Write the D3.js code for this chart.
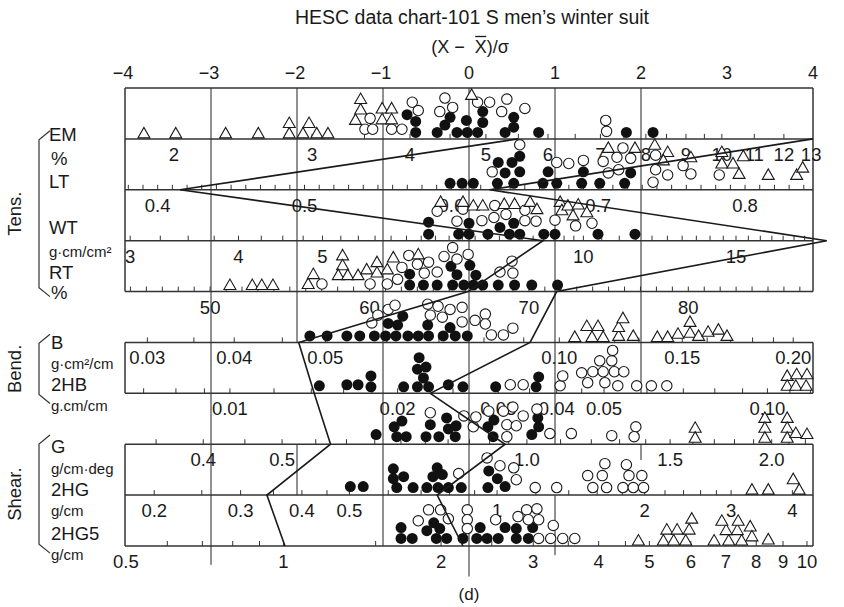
<!DOCTYPE html>
<html>
<head>
<meta charset="utf-8">
<script src="https://cdn.jsdelivr.net/npm/d3@7"></script>
<style>
    body { margin: 0; background: #fff; }
    svg text { font-family: "Liberation Sans", Arial, sans-serif; fill: #1a1a1a; }
</style>
</head>
<body>
<svg id="chart" width="844" height="607"></svg>
<script>
'use strict';

// top axis, (X - mean)/sigma
var sigmaTicks = [-4, -3, -2, -1, 0, 1, 2, 3, 4];

// property scales: tick labels and minor ticks
var emLabels = [2, 3, 4, 5, 6, 7, 8, 9, 10, 11, 12, 13];
var emTicks = [3, 3.5, 4, 4.5, 5, 5.5, 6, 6.5, 7, 7.5, 8, 8.5, 9, 9.5, 10, 11, 12, 13];
var ltLabels = ['0.4', '0.5', '0.6', '0.7', '0.8'];
var ltTicks = d3.range(38, 85).map(function (v) { return v / 100; });
var wtLabels = [3, 4, 5, 10, 15];
var wtTicks = d3.range(12, 40).map(function (v) { return v / 4; }).concat(d3.range(20, 37).map(function (v) { return v / 2; }));
var rtLabels = [50, 60, 70, 80];
var rtTicks = d3.range(45, 88);
var bLabels = ['0.03', '0.04', '0.05', '0.10', '0.15', '0.20'];
var bTicks = [0.03, 0.035, 0.04, 0.045, 0.05, 0.06, 0.07, 0.08, 0.09, 0.1, 0.11, 0.12, 0.13, 0.14, 0.15, 0.16, 0.17, 0.18, 0.19, 0.2, 0.21];
var hbLabels = ['0.01', '0.02', '0.03', '0.04', '0.05', '0.10'];
var hbTicks = [0.007, 0.008, 0.009, 0.01, 0.012, 0.014, 0.016, 0.018, 0.02, 0.025, 0.03, 0.035, 0.04, 0.045, 0.05, 0.06, 0.07, 0.08, 0.09, 0.1, 0.11, 0.12];
var gLabels = ['0.4', '0.5', '1.0', '1.5', '2.0'];
var gTicks = d3.range(7, 20).map(function (v) { return v / 20; }).concat(d3.range(10, 23).map(function (v) { return v / 10; }));
var hgLabels = ['0.2', '0.3', '0.4', '0.5', '1', '2', '3', '4'];
var hgTicks = [0.2, 0.25, 0.3, 0.35, 0.4, 0.45, 0.5, 0.6, 0.7, 0.8, 0.9, 1, 1.2, 1.4, 1.6, 1.8, 2, 2.2, 2.4, 2.6, 2.8, 3, 3.5, 4];
var hg5Labels = ['0.5', '1', '2', '3', '4', '5', '6', '7', '8', '9', '10'];
var hg5Ticks = [0.5, 0.6, 0.7, 0.8, 0.9, 1, 1.5, 2, 2.5, 3, 3.5, 4, 4.5, 5, 6, 7, 8, 9, 10];

// sample points, [sigma, stack level]
var emFilled = [[-0.72,1.7],[-0.62,1.05],[-0.62,0],[-0.37,0],[-0.28,0.7],[-0.22,1.45],[-0.14,0],[-0.03,1.15],[-0.02,0],[0.10,0],[0.16,2.0],[0.16,0.95],[0.42,0],[0.52,1.45],[0.52,0.5],[0.81,0],[1.83,0],[2.14,0]];
var emOpen = [[-1.21,0.3],[-1.12,0.3],[-0.90,0.3],[-0.78,0.3],[-1.15,1.35],[-0.66,2.9],[-0.59,2.1],[-0.28,3.3],[-0.19,2.4],[-0.34,2.0],[0.10,2.9],[0.24,2.9],[0.44,3.2],[0.38,2.0],[0.65,2.3],[1.59,1.15],[1.60,0.1]];
var emTri = [[-3.78,0],[-3.41,0],[-2.83,0],[-2.45,0],[-2.09,0],[-2.09,1],[-1.93,0],[-1.86,1],[-1.77,0],[-1.64,0],[-1.32,1.3],[-1.26,2.3],[-1.26,3.3],[-1.01,2.4],[-0.90,2.4],[-1.01,1.35],[-0.90,1.35],[0.03,3.7]];

var ltFilled = [[-0.22,0],[-0.08,0],[0.05,0],[0.33,0],[0.52,0],[0.86,0],[1.02,0],[1.31,0],[1.52,0],[1.81,0],[0.34,2],[0.50,2],[0.59,2.6],[0.59,1.1],[0.42,1.0],[0.92,1.1],[1.33,1.1],[1.88,1.0]];
var ltOpen = [[0.59,3.7],[0.27,1.1],[1.02,2],[1.16,1.9],[1.33,2.2],[1.56,2.1],[1.72,2.5],[1.88,2.4],[1.79,3.4],[1.62,1.0],[1.74,1.3],[2.17,2.7],[2.17,1.3],[2.14,0.1],[2.31,0.8],[2.49,1.7],[2.58,0.9],[2.91,0.8]];
var ltTri = [[1.62,3.5],[1.93,3.5],[2.16,3.8],[2.31,3.1],[2.58,2.6],[2.26,2.3],[2.94,3.1],[2.94,2.0],[3.07,2.0],[3.19,2.7],[3.14,1.0],[3.48,0.9],[3.81,0.9],[3.88,1.6]];

var wtFilled = [[-0.47,1.15],[-0.47,0],[-0.12,0],[0,1.05],[0,0],[0.22,0],[0.36,0.65],[0.47,0],[0.52,1.05],[0.59,0],[0.87,0],[1.0,0],[1.5,0],[1.93,0]];
var wtOpen = [[-0.37,2.2],[-0.14,1.25],[-0.07,2.4],[0.15,1.3],[0.30,2.75],[0.29,1.6],[0.43,1.9],[0.65,2.3],[0.65,1.3],[0.78,1.25],[1.0,1.35],[1.24,0.8],[1.43,1.05]];
var wtTri = [[-0.33,3.2],[-0.07,3.2],[0.05,2.85],[0.16,2.85],[0.41,3.0],[0.53,3.0],[0.71,3.2],[0.79,2.5],[1.06,3.2],[1.08,2.4],[1.15,2.85],[1.21,1.9],[1.27,2.95],[1.37,2.2]];

var rtFilled = [[-0.69,0],[-0.53,0],[-0.37,0],[-0.19,0],[-0.06,0],[0.05,0],[0.16,0],[0.34,0],[0.53,0],[0.73,0],[1.03,0],[-0.69,1.05],[-0.21,1.8],[-0.14,1.0],[0.01,1.9],[0.08,0.95]];
var rtOpen = [[-1.71,0.1],[-1.15,0.1],[-0.95,0.1],[-0.83,0.55],[-0.78,1.7],[-0.70,2.85],[-0.60,2.0],[-0.52,1.15],[-0.47,2.2],[-0.37,1.25],[-0.29,2.75],[-0.19,3.6],[-0.14,2.5],[-0.01,2.95],[0.36,1.25],[0.50,2.3],[0.51,1.15]];
var rtTri = [[-2.78,0.1],[-2.52,0.1],[-2.41,0.1],[-2.28,0.1],[-1.87,0.2],[-1.81,1.15],[-1.47,2.95],[-1.47,2.0],[-1.52,1.05],[-1.41,1.05],[-1.29,1.05],[-1.19,1.6],[-1.07,2.3],[-1.07,1.3],[-0.95,1.6],[-0.88,2.75],[-0.59,3.05]];

var bFilled = [[-1.85,0],[-1.65,0],[-1.42,0],[-1.27,0],[-1.10,0],[-0.97,0],[-0.85,0],[-0.71,0],[-0.59,0],[-0.47,0],[-0.30,0],[-0.16,0],[-0.02,0],[-0.94,1.2],[-0.83,1.05],[-0.77,1.9],[-0.48,1.05],[-0.22,0.8]];
var bOpen = [[-1.13,1.25],[-1.06,2.0],[-0.94,2.55],[-0.86,2.95],[-0.48,3.05],[-0.45,2.0],[-0.36,2.85],[-0.31,1.8],[-0.22,2.55],[-0.08,2.75],[-0.08,1.35],[0.07,1.5],[0.19,2.1],[0.19,1.15],[0.26,0.1],[0.40,0.1],[0.51,0.75]];
var bTri = [[1.23,0],[1.37,1.05],[1.43,0],[1.50,1.05],[1.56,0],[1.74,0.1],[1.74,0.95],[1.79,1.8],[1.91,0.1],[2.19,0],[2.31,0],[2.43,0.3],[2.57,0.4],[2.57,1.45],[2.67,0.1],[2.78,0.5],[2.90,0.7],[3.0,0.1]];

var hbFilled = [[-1.74,0.1],[-1.42,0.2],[-1.29,0.2],[-1.14,1.05],[-1.14,0],[-0.76,0],[-0.60,0],[-0.47,0],[-0.58,2.8],[-0.60,1.7],[-0.50,1.9],[-0.53,0.85],[-0.24,0.2],[-0.07,0],[0.31,0],[0.81,0.95],[0.78,0]];
var hbOpen = [[0.48,0.2],[0.63,0.2],[1.06,0.1],[1.09,1.05],[1.31,1.35],[1.44,1.45],[1.56,1.45],[1.69,1.45],[1.80,1.45],[1.52,2.5],[1.66,2.5],[1.67,3.5],[1.38,0.4],[1.58,0.4],[1.73,0.1],[1.95,0.1],[2.12,0.1],[2.30,0.1]];
var hbTri = [[3.70,1.15],[3.81,1.3],[3.93,1.3],[3.70,0.2],[3.80,0.2],[3.92,0.2]];

var gFilled = [[-1.08,0.3],[-0.87,1.05],[-0.78,1.6],[-0.84,0.1],[-0.73,0.1],[-0.50,0.1],[-0.45,1.25],[-0.35,0.1],[-0.26,1.9],[-0.24,0.85],[-0.15,1.15],[-0.16,0.1],[0.22,1.05],[0.29,1.7],[0.28,0.1],[0.73,0.3],[0.80,1.9],[0.81,1.05]];
var gOpen = [[-0.45,2.4],[-0.06,2.1],[0.05,1.05],[0.08,2.0],[0.23,2.55],[0.40,2.55],[0.51,2.95],[0.63,2.1],[0.44,1.25],[0.55,1.15],[0.44,0.1],[0.79,2.75],[0.94,0.4],[1.19,0.4],[1.66,0.2],[1.94,1.05],[1.92,0.1]];
var gTri = [[2.63,1.05],[2.63,0.1],[3.44,2.0],[3.44,1.05],[3.44,0.1],[3.70,2.0],[3.70,1.05],[3.70,0.1],[3.80,0.55],[3.93,0.45]];

var hgFilled = [[-1.38,0.2],[-1.23,0.2],[-0.88,1.9],[-0.88,0.95],[-0.76,1.15],[-0.84,0.1],[-0.65,0.1],[-0.49,0.1],[-0.42,1.15],[-0.37,2.0],[-0.31,1.35],[-0.36,0.1],[-0.24,0.1],[-0.09,0.1],[0.23,1.7],[0.33,0.95],[0.22,0.1],[0.42,0.2]];
var hgOpen = [[-0.12,1.45],[0.21,2.95],[0.36,2.2],[0.52,2.0],[0.55,0.85],[0.77,0.1],[1.02,0.1],[1.38,1.25],[1.44,0.1],[1.55,1.25],[1.58,2.4],[1.60,0.1],[1.79,0.1],[1.83,2.3],[1.86,1.25],[1.91,0.1],[2.01,1.25],[2.03,0.1]];
var hgTri = [[3.29,0],[3.48,0],[3.77,1.0],[3.84,0]];

var hg5Filled = [[-0.79,1.15],[-0.79,0.1],[-0.66,0.1],[-0.49,0.85],[-0.41,1.6],[-0.34,1.05],[-0.38,0.1],[-0.26,0.1],[-0.07,0.1],[0.09,0.1],[0.13,1.15],[0.21,0.1],[0.34,0.1],[0.42,1.15],[0.55,1.05],[0.55,0.1],[0.69,0.1],[0.74,1.15]];
var hg5Open = [[-0.59,1.8],[-0.47,2.85],[-0.33,2.85],[-0.24,2.0],[-0.02,2.85],[-0.02,1.9],[-0.02,1.05],[0.31,1.9],[0.57,2.2],[0.67,2.85],[0.79,2.95],[0.69,1.9],[0.81,1.9],[0.98,1.35],[0.81,0.1],[0.95,0.1],[1.09,0.1],[1.23,0.1]];
var hg5Tri = [[1.97,0],[2.26,0],[2.38,0],[2.52,0],[2.30,1.05],[2.42,1.05],[2.56,1.05],[2.59,2.1],[2.85,0],[3.02,0],[3.17,0],[2.99,1.0],[3.12,1.0],[3.27,1.35],[2.94,1.9],[3.13,1.9],[3.29,0.4],[3.48,0.1]];

// two profile lines, sigma value on each property line (EM ... 2HG5)
var profileA = [0.57, -3.36, 0.86, -0.01, -1.98, -1.80, -1.61, -2.35, -2.14];
var profileB = [4.0, 0.24, 4.16, 1.02, 0.71, -0.45, 0.42, -0.37, -0.07];

var svg = d3.select('#chart');
var x = d3.scaleLinear().domain([-4, 4]).range([125, 813]);
var rowY = d3.scaleLinear().domain([0, 9]).range([88, 546]);

// each property scale maps its own unit to sigma
var props = [
    { scale: d3.scaleLog().domain([2, 10]).range([-3.43, 2.94]), labels: emLabels, ticks: emTicks, pts: [emFilled, emOpen, emTri] },
    { scale: d3.scaleLinear().domain([0.4, 0.8]).range([-3.62, 3.21]), labels: ltLabels, ticks: ltTicks, pts: [ltFilled, ltOpen, ltTri] },
    { scale: d3.scaleLog().domain([3, 10]).range([-3.94, 1.33]), labels: wtLabels, ticks: wtTicks, pts: [wtFilled, wtOpen, wtTri] },
    { scale: d3.scaleLinear().domain([50, 80]).range([-3.01, 2.55]), labels: rtLabels, ticks: rtTicks, pts: [rtFilled, rtOpen, rtTri] },
    { scale: d3.scaleLog().domain([0.03, 0.04, 0.05, 0.1, 0.15, 0.2]).range([-3.74, -2.73, -1.67, 1.05, 2.48, 3.77]), labels: bLabels, ticks: bTicks, pts: [bFilled, bOpen, bTri] },
    { scale: d3.scaleLog().domain([0.01, 0.02, 0.03, 0.04, 0.05, 0.1]).range([-2.78, -0.83, 0.34, 1.02, 1.57, 3.47]), labels: hbLabels, ticks: hbTicks, pts: [hbFilled, hbOpen, hbTri] },
    { scale: d3.scaleLog().domain([0.4, 2.0]).range([-3.09, 3.52]), labels: gLabels, ticks: gTicks, pts: [gFilled, gOpen, gTri] },
    { scale: d3.scaleLog().domain([0.2, 4]).range([-3.66, 3.76]), labels: hgLabels, ticks: hgTicks, pts: [hgFilled, hgOpen, hgTri] },
    { scale: d3.scaleLog().domain([0.5, 10]).range([-3.99, 3.93]), labels: hg5Labels, ticks: hg5Ticks, pts: [hg5Filled, hg5Open, hg5Tri] }
];

// vertical sigma lines, spans given in row units
var grid = [
    { s: -3, spans: [[0, 9.37]] },
    { s: -2, spans: [[0, 5], [7, 8]] },
    { s: -1, spans: [[0, 9]] },
    { s: 0, spans: [[0, 9.6]] },
    { s: 1, spans: [[0, 7], [8, 9.18]] },
    { s: 2, spans: [[0, 6], [7, 7.31]] }
];

paint();

////////////

function px(i, v) { return x(props[i].scale(+v)); }
function stackY(line, lvl) { return rowY(line) - 6.5 - lvl * 10.4; }

function paint() {
    var g = svg.append('g');

    g.append('text').attr('x', 472).attr('y', 24).attr('text-anchor', 'middle')
        .style('font-size', '19.5px').text('HESC data chart-101 S men\u2019s winter suit');

    // axis title, the second X gets a bar over it
    var axTitle = g.append('text').attr('x', 470).attr('y', 53).attr('text-anchor', 'middle')
        .style('font-size', '18px').style('white-space', 'pre').text('(X \u2212  X)/\u03c3');
    var n = axTitle.node();
    var a = n.getStartPositionOfChar(6), b = n.getEndPositionOfChar(6);
    g.append('line').attr('x1', a.x + 0.5).attr('x2', b.x - 0.5).attr('y1', 36.5).attr('y2', 36.5)
        .attr('stroke', '#1a1a1a').attr('stroke-width', 1.3);

    g.selectAll('.sig').data(sigmaTicks).enter().append('text')
        .attr('x', function (d) { return x(d) - (d < 0 ? 2 : 0); })
        .attr('y', 79).attr('text-anchor', 'middle').style('font-size', '18px')
        .text(function (d) { return d < 0 ? '\u2212' + (-d) : d; });

    grid.forEach(function (gl) {
        gl.spans.forEach(function (sp) {
            g.append('line').attr('x1', x(gl.s)).attr('x2', x(gl.s))
                .attr('y1', rowY(sp[0])).attr('y2', rowY(sp[1]))
                .attr('stroke', '#222').attr('stroke-width', 1);
        });
    });

    // horizontal property lines and box sides
    d3.range(0, 10).forEach(function (r) {
        g.append('line').attr('x1', x(-4)).attr('x2', x(4)).attr('y1', rowY(r)).attr('y2', rowY(r))
            .attr('stroke', '#333').attr('stroke-width', 1.5);
    });
    [[0, 4], [5, 6], [7, 9]].forEach(function (bx) {
        [-4, 4].forEach(function (s) {
            g.append('line').attr('x1', x(s)).attr('x2', x(s)).attr('y1', rowY(bx[0])).attr('y2', rowY(bx[1]))
                .attr('stroke', '#333').attr('stroke-width', 1.5);
        });
    });

    props.forEach(function (p, i) {
        var line = i + 1;
        var ly = rowY(line);
        var tks = p.ticks.filter(function (v) { var xx = px(i, v); return xx > x(-4) + 2 && xx < x(4) - 2; });
        g.selectAll('.tk' + i).data(tks).enter().append('line')
            .attr('x1', function (d) { return px(i, d); }).attr('x2', function (d) { return px(i, d); })
            .attr('y1', ly).attr('y2', ly - 5)
            .attr('stroke', '#333').attr('stroke-width', 1);
        g.selectAll('.lb' + i).data(p.labels).enter().append('text')
            .attr('x', function (d) { return px(i, d); }).attr('y', ly + 22)
            .attr('text-anchor', 'middle').style('font-size', '18.5px')
            .text(function (d) { return d; });
    });

    props.forEach(function (p, i) {
        var line = i + 1;
        g.selectAll('.f' + i).data(p.pts[0]).enter().append('circle')
            .attr('cx', function (d) { return x(d[0]); }).attr('cy', function (d) { return stackY(line, d[1]); })
            .attr('r', 5.5).attr('fill', '#111');
        g.selectAll('.o' + i).data(p.pts[1]).enter().append('circle')
            .attr('cx', function (d) { return x(d[0]); }).attr('cy', function (d) { return stackY(line, d[1]); })
            .attr('r', 5.2).attr('fill', '#fff').attr('stroke', '#1a1a1a').attr('stroke-width', 1.1);
        g.selectAll('.t' + i).data(p.pts[2]).enter().append('path')
            .attr('d', 'M-6,5.5L6,5.5L0,-5Z')
            .attr('transform', function (d) { return 'translate(' + x(d[0]) + ',' + stackY(line, d[1]) + ')'; })
            .attr('fill', '#fff').attr('stroke', '#1a1a1a').attr('stroke-width', 1.1);
    });

    var prof = d3.line().x(function (d) { return x(d); }).y(function (d, i) { return rowY(i + 1); });
    [profileA, profileB].forEach(function (pr) {
        g.append('path').attr('d', prof(pr)).attr('fill', 'none')
            .attr('stroke', '#1a1a1a').attr('stroke-width', 1.6);
    });

    // left side names, units and brackets
    var names = [
        ['EM', 18.5, 1, 2], ['%', 18.5, 1, 26], ['LT', 18.5, 2, -2], ['WT', 18.5, 3, -7],
        ['g\u00b7cm/cm\u00b2', 15, 3, 16], ['RT', 18.5, 4, -13], ['%', 18.5, 4, 7],
        ['B', 18.5, 5, 7], ['g\u00b7cm\u00b2/cm', 15, 5, 27], ['2HB', 18.5, 6, -2], ['g.cm/cm', 15, 6, 18],
        ['G', 18.5, 7, 9], ['g/cm\u00b7deg', 15, 7, 30], ['2HG', 18.5, 8, 1], ['g/cm', 15, 8, 21],
        ['2HG5', 18.5, 9, -6], ['g/cm', 15, 9, 14]
    ];
    names.forEach(function (nm) {
        g.append('text').attr('x', nm[2] <= 4 && nm[0] !== '%' ? 49 : 51).attr('y', rowY(nm[2]) + nm[3])
            .style('font-size', nm[1] + 'px').text(nm[0]);
    });

    var groups = [['Tens.', 0.84, 4.1], ['Bend.', 4.84, 6.2], ['Shear.', 6.82, 9.14]];
    groups.forEach(function (gr) {
        var y0 = rowY(gr[1]), y1 = rowY(gr[2]);
        g.append('path').attr('d', 'M50,' + y0 + 'L39,' + (y0 + 9) + 'L39,' + (y1 - 9) + 'L50,' + y1)
            .attr('fill', 'none').attr('stroke', '#333').attr('stroke-width', 1.2);
        g.append('text').attr('transform', 'translate(21,' + ((y0 + y1) / 2) + ') rotate(-90)')
            .attr('text-anchor', 'middle').style('font-size', '18.5px').text(gr[0]);
    });

    g.append('text').attr('x', x(0)).attr('y', 600).attr('text-anchor', 'middle')
        .style('font-size', '17px').text('(d)');
}
</script>
</body>
</html>
